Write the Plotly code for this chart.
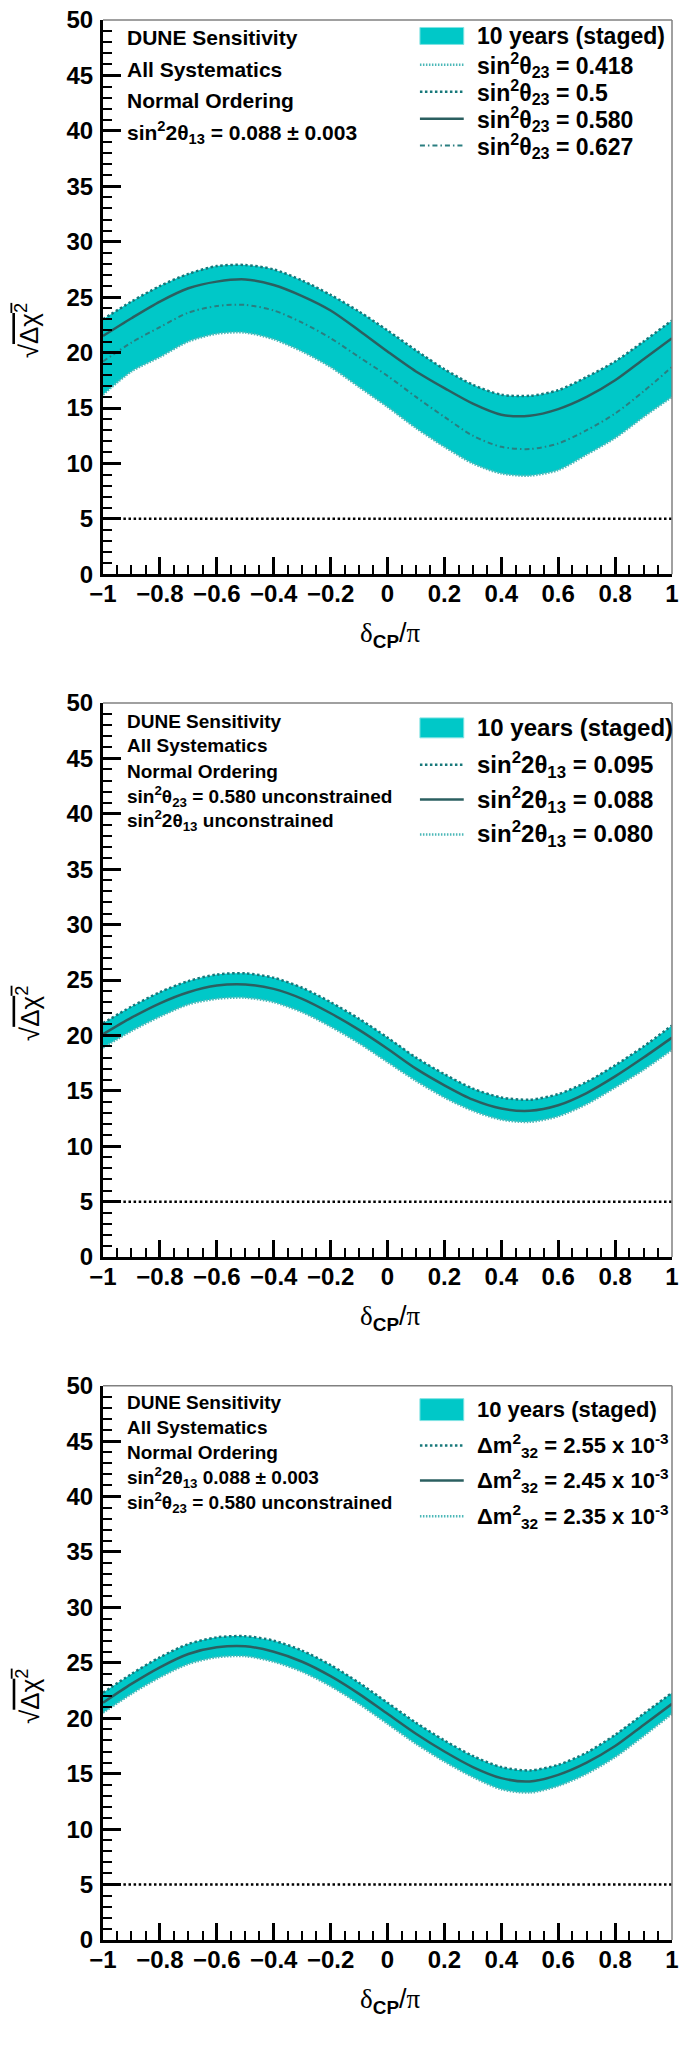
import plotly.graph_objects as go

# ---------------- data ----------------
delta_cp = [-1.0, -0.9, -0.8, -0.7, -0.6, -0.5, -0.4, -0.3, -0.2, -0.1, 0.0,
            0.1, 0.2, 0.3, 0.4, 0.5, 0.6, 0.7, 0.8, 0.9, 1.0]

# Panel 1: sin^2 theta23 variations
p1_s23_0418 = [16.2, 18.3, 19.6, 21.0, 21.7, 21.8, 21.2, 20.1, 18.7, 16.9, 15.1,
               13.2, 11.5, 10.0, 9.1, 8.9, 9.4, 10.8, 12.3, 14.2, 16.0]
p1_s23_0500 = [23.0, 24.6, 26.0, 27.1, 27.8, 27.9, 27.5, 26.5, 25.2, 23.7, 22.0,
               20.2, 18.5, 17.1, 16.2, 16.1, 16.6, 17.8, 19.2, 21.0, 22.9]
p1_s23_0580 = [21.5, 23.1, 24.6, 25.8, 26.4, 26.6, 26.1, 25.1, 23.8, 22.0, 20.1,
               18.3, 16.8, 15.4, 14.4, 14.3, 14.9, 16.0, 17.5, 19.4, 21.3]
p1_s23_0627 = [19.2, 20.9, 22.3, 23.6, 24.2, 24.3, 23.8, 22.7, 21.3, 19.6, 17.9,
               16.0, 14.2, 12.5, 11.5, 11.3, 11.8, 13.0, 14.5, 16.5, 18.7]

# Panel 2: sin^2 2theta13 variations
p2_s13_0095 = [21.1, 22.6, 23.9, 24.9, 25.5, 25.6, 25.2, 24.3, 23.0, 21.5, 19.8,
               18.0, 16.5, 15.2, 14.4, 14.2, 14.7, 15.8, 17.3, 19.0, 20.9]
p2_s13_0088 = [20.1, 21.6, 22.9, 23.9, 24.5, 24.6, 24.2, 23.3, 22.0, 20.5, 18.8,
               17.0, 15.5, 14.2, 13.4, 13.2, 13.7, 14.8, 16.3, 18.0, 19.8]
p2_s13_0080 = [18.9, 20.4, 21.7, 22.8, 23.3, 23.4, 23.0, 22.1, 20.8, 19.3, 17.6,
               15.9, 14.4, 13.2, 12.4, 12.2, 12.7, 13.8, 15.3, 16.9, 18.7]

# Panel 3: Delta m^2_32 variations
p3_dm_255 = [22.3, 24.0, 25.5, 26.7, 27.3, 27.4, 27.0, 26.1, 24.8, 23.2, 21.4,
             19.6, 18.0, 16.6, 15.6, 15.3, 15.8, 16.9, 18.5, 20.4, 22.3]
p3_dm_245 = [21.4, 23.1, 24.6, 25.8, 26.4, 26.5, 26.0, 25.1, 23.8, 22.2, 20.4,
             18.6, 17.0, 15.6, 14.6, 14.3, 14.9, 16.0, 17.5, 19.4, 21.3]
p3_dm_235 = [20.5, 22.2, 23.7, 24.9, 25.5, 25.6, 25.1, 24.2, 22.9, 21.3, 19.5,
             17.7, 16.1, 14.7, 13.6, 13.3, 13.9, 15.0, 16.5, 18.4, 20.4]

sigma5_level = 5

x_tick_vals = [-1, -0.8, -0.6, -0.4, -0.2, 0, 0.2, 0.4, 0.6, 0.8, 1]
x_tick_text = ["\u22121", "\u22120.8", "\u22120.6", "\u22120.4", "\u22120.2", "0",
               "0.2", "0.4", "0.6", "0.8", "1"]
y_tick_vals = [0, 5, 10, 15, 20, 25, 30, 35, 40, 45, 50]
y_tick_text = ["0", "5", "10", "15", "20", "25", "30", "35", "40", "45", "50"]

band_label = "10 years (staged)"
p1_labels = ["sin<sup>2</sup>θ<sub>23</sub> = 0.418", "sin<sup>2</sup>θ<sub>23</sub> = 0.5",
             "sin<sup>2</sup>θ<sub>23</sub> = 0.580", "sin<sup>2</sup>θ<sub>23</sub> = 0.627"]
p2_labels = ["sin<sup>2</sup>2θ<sub>13</sub> = 0.095", "sin<sup>2</sup>2θ<sub>13</sub> = 0.088",
             "sin<sup>2</sup>2θ<sub>13</sub> = 0.080"]
p3_labels = ["Δm<sup>2</sup><sub>32</sub> = 2.55 x 10<sup>-3</sup>",
             "Δm<sup>2</sup><sub>32</sub> = 2.45 x 10<sup>-3</sup>",
             "Δm<sup>2</sup><sub>32</sub> = 2.35 x 10<sup>-3</sup>"]
p1_info = ["DUNE Sensitivity", "All Systematics", "Normal Ordering",
           "sin<sup>2</sup>2θ<sub>13</sub> = 0.088 ± 0.003"]
p2_info = ["DUNE Sensitivity", "All Systematics", "Normal Ordering",
           "sin<sup>2</sup>θ<sub>23</sub> = 0.580 unconstrained",
           "sin<sup>2</sup>2θ<sub>13</sub> unconstrained"]
p3_info = ["DUNE Sensitivity", "All Systematics", "Normal Ordering",
           "sin<sup>2</sup>2θ<sub>13</sub> 0.088 ± 0.003",
           "sin<sup>2</sup>θ<sub>23</sub> = 0.580 unconstrained"]

# ---------------- styles ----------------
FONT = "Liberation Sans"
BAND = "#00C8C8"
STY_UP = dict(color="#17787A", width=2.5, dash="2.5px,2.5px")
STY_LO = dict(color="#4CB8B8", width=2.5, dash="1.5px,1.5px")
STY_MID = dict(color="#2B5F60", width=2.5)
STY_DD = dict(color="#2A7E80", width=2, dash="5px,3px,1.5px,3px")
STY_5S = dict(color="black", width=2.5, dash="2.5px,2.6px")

PANEL_H = 556.0

fig = go.Figure()


def add_panel(idx, lower, upper, lines):
    xa = "x" if idx == 1 else f"x{idx}"
    ya = "y" if idx == 1 else f"y{idx}"
    fig.add_trace(go.Scatter(x=delta_cp, y=lower, mode="lines",
                             line=dict(width=0, color=BAND, shape="spline", smoothing=0.8),
                             xaxis=xa, yaxis=ya, showlegend=False, hoverinfo="skip"))
    fig.add_trace(go.Scatter(x=delta_cp, y=upper, mode="lines",
                             line=dict(width=0, color=BAND, shape="spline", smoothing=0.8),
                             fill="tonexty", fillcolor=BAND, xaxis=xa, yaxis=ya,
                             showlegend=False, hoverinfo="skip"))
    for ys, sty in lines:
        fig.add_trace(go.Scatter(x=delta_cp, y=ys, mode="lines",
                                 line=dict(sty, shape="spline", smoothing=0.8),
                                 xaxis=xa, yaxis=ya, showlegend=False))
    fig.add_trace(go.Scatter(x=[delta_cp[0], delta_cp[-1]], y=[sigma5_level, sigma5_level],
                             mode="lines", line=STY_5S, xaxis=xa, yaxis=ya, showlegend=False))


add_panel(1, p1_s23_0418, p1_s23_0500,
          [(p1_s23_0418, STY_LO), (p1_s23_0500, STY_UP), (p1_s23_0627, STY_DD), (p1_s23_0580, STY_MID)])
add_panel(2, p2_s13_0080, p2_s13_0095,
          [(p2_s13_0080, STY_LO), (p2_s13_0095, STY_UP), (p2_s13_0088, STY_MID)])
add_panel(3, p3_dm_235, p3_dm_255,
          [(p3_dm_235, STY_LO), (p3_dm_255, STY_UP), (p3_dm_245, STY_MID)])

tickfont = dict(family=FONT, size=24, color="black", weight="bold")


def xaxis_cfg(anchor):
    return dict(range=[-1, 1], tickmode="array", tickvals=x_tick_vals, ticktext=x_tick_text,
                ticks="inside", ticklen=17, tickwidth=2.5, tickcolor="black",
                showline=True, linecolor="black", linewidth=3, mirror=False,
                showgrid=False, zeroline=False, tickfont=tickfont, anchor=anchor,
                ticklabelstandoff=-4, ticklabeloverflow="allow",
                minor=dict(ticks="inside", ticklen=9, tickwidth=2, tickcolor="black",
                           tickmode="linear", tick0=-1, dtick=0.05, showgrid=False))


def yaxis_cfg(anchor, dom):
    return dict(range=[0, 50], tickmode="array", tickvals=y_tick_vals, ticktext=y_tick_text,
                ticks="inside", ticklen=18, tickwidth=2.5, tickcolor="black",
                showline=True, linecolor="black", linewidth=3, mirror=False,
                showgrid=False, zeroline=False, tickfont=tickfont, anchor=anchor, domain=dom,
                ticklabelstandoff=2, ticklabeloverflow="allow",
                minor=dict(ticks="inside", ticklen=9, tickwidth=2, tickcolor="black",
                           tickmode="linear", tick0=0, dtick=1, showgrid=False))


domains = {1: [0.7113, 1.0], 2: [0.3557, 0.6443], 3: [0.0, 0.2887]}

fig.update_layout(
    width=685, height=2055,
    margin=dict(l=103, r=6, t=14, b=115),
    paper_bgcolor="white", plot_bgcolor="white",
    showlegend=False,
    xaxis=xaxis_cfg("y"), xaxis2=xaxis_cfg("y2"), xaxis3=xaxis_cfg("y3"),
    yaxis=yaxis_cfg("x", domains[1]), yaxis2=yaxis_cfg("x2", domains[2]),
    yaxis3=yaxis_cfg("x3", domains[3]),
)

shapes = []
annotations = []


def ydom(off):
    return 1 - off / PANEL_H


def decorate(idx, info, info_offs, info_size, leg_entries, leg_offs, box_half, leg_size):
    xr = "x domain" if idx == 1 else f"x{idx} domain"
    yr = "y domain" if idx == 1 else f"y{idx} domain"
    shapes.append(dict(type="line", xref=xr, yref=yr, x0=0, x1=1, y0=1, y1=1,
                       line=dict(color="#808080", width=1.5)))
    shapes.append(dict(type="line", xref=xr, yref=yr, x0=1, x1=1, y0=0, y1=1,
                       line=dict(color="#808080", width=1.5)))
    for txt, off in zip(info, info_offs):
        annotations.append(dict(xref=xr, yref=yr, x=0.038, y=ydom(off), text=txt,
                                xanchor="left", yanchor="middle", showarrow=False,
                                font=dict(family=FONT, size=info_size, color="black", weight="bold")))
    shapes.append(dict(type="rect", xref=xr, yref=yr, x0=0.557, x1=0.634,
                       y0=ydom(leg_offs[0] + box_half), y1=ydom(leg_offs[0] - box_half),
                       fillcolor=BAND, line=dict(color="#7FE3E3", width=1)))
    annotations.append(dict(xref=xr, yref=yr, x=0.653, y=ydom(leg_offs[0]), text=band_label,
                            xanchor="left", yanchor="middle", showarrow=False,
                            font=dict(family=FONT, size=leg_size, color="black", weight="bold")))
    for (txt, sty), off in zip(leg_entries, leg_offs[1:]):
        shapes.append(dict(type="line", xref=xr, yref=yr, x0=0.557, x1=0.634,
                           y0=ydom(off), y1=ydom(off), line=sty))
        annotations.append(dict(xref=xr, yref=yr, x=0.653, y=ydom(off), text=txt,
                                xanchor="left", yanchor="middle", showarrow=False,
                                font=dict(family=FONT, size=leg_size, color="black", weight="bold")))
    annotations.append(dict(xref=xr, yref=yr, x=0.505, y=-61 / PANEL_H,
                            text="<span style='font-family:Liberation Serif'>δ</span><sub><b>CP</b></sub>/<span style='font-family:Liberation Serif'>π</span>",
                            xanchor="center", yanchor="middle", showarrow=False,
                            font=dict(family=FONT, size=27, color="black")))
    annotations.append(dict(xref=xr, yref=yr, x=-0.132, y=0.44, textangle=-90,
                            text="√<span style='text-decoration:overline'>Δχ<sup>2</sup></span>",
                            xanchor="center", yanchor="middle", showarrow=False,
                            font=dict(family=FONT, size=26, color="black")))


decorate(1, p1_info, [18, 50, 81, 113], 21,
         list(zip(p1_labels, [STY_LO, STY_UP, STY_MID, STY_DD])),
         [16, 45, 72, 99, 126], 8.5, 23)
decorate(2, p2_info, [19, 43, 69, 94, 118], 19,
         list(zip(p2_labels, [STY_UP, STY_MID, STY_LO])),
         [25, 62, 97, 132], 10, 24)
decorate(3, p3_info, [17, 42, 67, 92, 117], 19,
         list(zip(p3_labels, [STY_UP, STY_MID, STY_LO])),
         [24, 60, 95, 131], 11, 22)

fig.update_layout(shapes=shapes, annotations=annotations)

fig.write_html("out.html", config={"displayModeBar": False},
               post_script="document.body.style.margin='0';document.body.style.overflow='hidden';")
